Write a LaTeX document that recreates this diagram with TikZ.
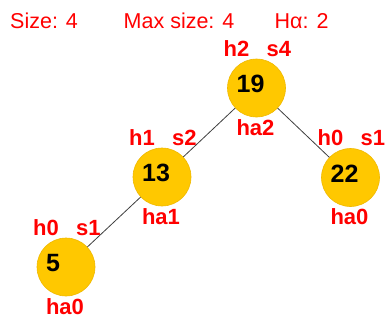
\documentclass[tikz,border=0pt]{standalone}
\usepackage{fontspec}
\setmainfont{Liberation Sans}
\definecolor{keygold}{RGB}{255,200,0}
\definecolor{keyrim}{RGB}{240,185,0}
\begin{document}
\begin{tikzpicture}[x=1pt,y=-1pt,
  keynode/.style={circle, fill=keygold, draw=keyrim, line width=0.6pt, minimum size=58pt, inner sep=0pt},
  keytext/.style={anchor=base west, inner sep=0pt, font=\fontsize{25}{25}\selectfont\bfseries},
  info/.style={text=red, anchor=base west, inner sep=0pt, font=\fontsize{22}{22}\selectfont\bfseries},
  infoc/.style={info, anchor=base},
  hdr/.style={text=red, anchor=base west, inner sep=0pt, font=\fontsize{21.5}{21.5}\selectfont},
  link/.style={draw=black!75, line width=0.8pt}]
\fill[white] (0,0) rectangle (389,322);
\useasboundingbox (0,0) rectangle (389,322);

% header line
\node[hdr] (size) at (10,28) {Size: 4};
\node[hdr] (maxsize) at (123.5,28) {Max size: 4};
\node[hdr] (height) at (274.5,28) {Hα: 2};

% tree nodes
\node[keynode] (n19) at (256.5,88) {};
\node[keynode] (n13) at (162,177) {};
\node[keynode] (n22) at (350.5,177.5) {};
\node[keynode] (n5) at (66,267) {};

% keys
\node[keytext] (t19) at (236.5,92.5) {19};
\node[keytext] (t13) at (142,181.5) {13};
\node[keytext] (t22) at (330.5,182) {22};
\node[keytext] (t5) at (46,271.5) {5};

% height / size / alpha-height annotations
\node[info] (h19) at (223.5,56) {h2};
\node[info] (s19) at (266.5,56) {s4};
\node[infoc] (a19) at (255.5,135) {ha2};

\node[info] (h13) at (129,145) {h1};
\node[info] (s13) at (172,145) {s2};
\node[infoc] (a13) at (161,224) {ha1};

\node[info] (h22) at (317.5,145.5) {h0};
\node[info] (s22) at (360.5,145.5) {s1};
\node[infoc] (a22) at (349.5,224.5) {ha0};

\node[info] (h5) at (33,235) {h0};
\node[info] (s5) at (76,235) {s1};
\node[infoc] (a5) at (65,314) {ha0};

% tree edges
\draw[link] (n19) -- (n13);
\draw[link] (n19) -- (n22);
\draw[link] (n13) -- (n5);
\end{tikzpicture}
\end{document}
